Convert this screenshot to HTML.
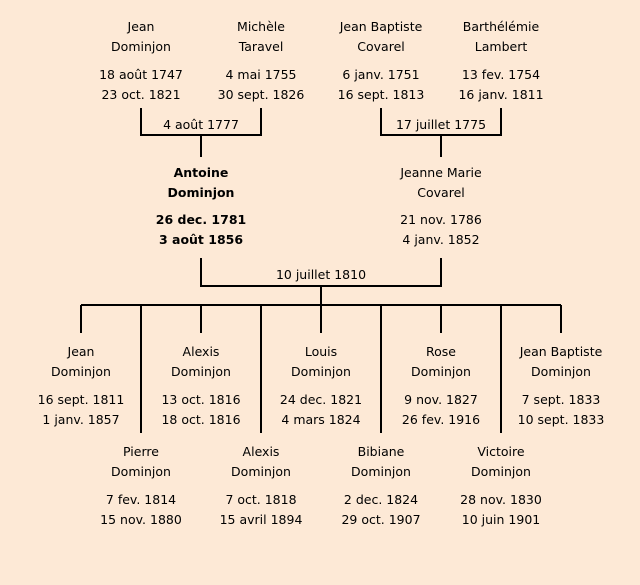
<!DOCTYPE html>
<html><head><meta charset="utf-8"><style>
body{margin:0;width:640px;height:585px;background:#fde9d6;position:relative;overflow:hidden;font-family:"Comic Sans MS","DejaVu Sans","Liberation Sans",sans-serif;font-size:12.5px;color:#000}
.t{position:absolute;width:130px;margin-left:-65px;text-align:center;line-height:20px;white-space:nowrap}
.b{font-weight:bold}
svg{position:absolute;left:0;top:0}
</style></head><body>
<svg width="640" height="585"><g stroke="#000" stroke-width="2" fill="none">
<path d="M141 108V135H261V108M201 135V157"/>
<path d="M381 108V135H501V108M441 135V157"/>
<path d="M201 258V286H441V258M321 286V305M81 305H561"/>
<path d="M81 305V333M201 305V333M321 305V333M441 305V333M561 305V333"/>
<path d="M141 305V433M261 305V433M381 305V433M501 305V433"/>
</g></svg>
<div class="t" style="left:141px;top:17px">Jean<br>Dominjon</div>
<div class="t" style="left:141px;top:65px">18 août 1747<br>23 oct. 1821</div>
<div class="t" style="left:261px;top:17px">Michèle<br>Taravel</div>
<div class="t" style="left:261px;top:65px">4 mai 1755<br>30 sept. 1826</div>
<div class="t" style="left:381px;top:17px">Jean Baptiste<br>Covarel</div>
<div class="t" style="left:381px;top:65px">6 janv. 1751<br>16 sept. 1813</div>
<div class="t" style="left:501px;top:17px">Barthélémie<br>Lambert</div>
<div class="t" style="left:501px;top:65px">13 fev. 1754<br>16 janv. 1811</div>
<div class="t" style="left:201px;top:115px">4 août 1777</div>
<div class="t" style="left:441px;top:115px">17 juillet 1775</div>
<div class="t b" style="left:201px;top:163px">Antoine<br>Dominjon</div>
<div class="t b" style="left:201px;top:210px">26 dec. 1781<br>3 août 1856</div>
<div class="t" style="left:441px;top:163px">Jeanne Marie<br>Covarel</div>
<div class="t" style="left:441px;top:210px">21 nov. 1786<br>4 janv. 1852</div>
<div class="t" style="left:321px;top:265px">10 juillet 1810</div>
<div class="t" style="left:81px;top:342px">Jean<br>Dominjon</div>
<div class="t" style="left:81px;top:390px">16 sept. 1811<br>1 janv. 1857</div>
<div class="t" style="left:201px;top:342px">Alexis<br>Dominjon</div>
<div class="t" style="left:201px;top:390px">13 oct. 1816<br>18 oct. 1816</div>
<div class="t" style="left:321px;top:342px">Louis<br>Dominjon</div>
<div class="t" style="left:321px;top:390px">24 dec. 1821<br>4 mars 1824</div>
<div class="t" style="left:441px;top:342px">Rose<br>Dominjon</div>
<div class="t" style="left:441px;top:390px">9 nov. 1827<br>26 fev. 1916</div>
<div class="t" style="left:561px;top:342px">Jean Baptiste<br>Dominjon</div>
<div class="t" style="left:561px;top:390px">7 sept. 1833<br>10 sept. 1833</div>
<div class="t" style="left:141px;top:442px">Pierre<br>Dominjon</div>
<div class="t" style="left:141px;top:490px">7 fev. 1814<br>15 nov. 1880</div>
<div class="t" style="left:261px;top:442px">Alexis<br>Dominjon</div>
<div class="t" style="left:261px;top:490px">7 oct. 1818<br>15 avril 1894</div>
<div class="t" style="left:381px;top:442px">Bibiane<br>Dominjon</div>
<div class="t" style="left:381px;top:490px">2 dec. 1824<br>29 oct. 1907</div>
<div class="t" style="left:501px;top:442px">Victoire<br>Dominjon</div>
<div class="t" style="left:501px;top:490px">28 nov. 1830<br>10 juin 1901</div>
</body></html>
